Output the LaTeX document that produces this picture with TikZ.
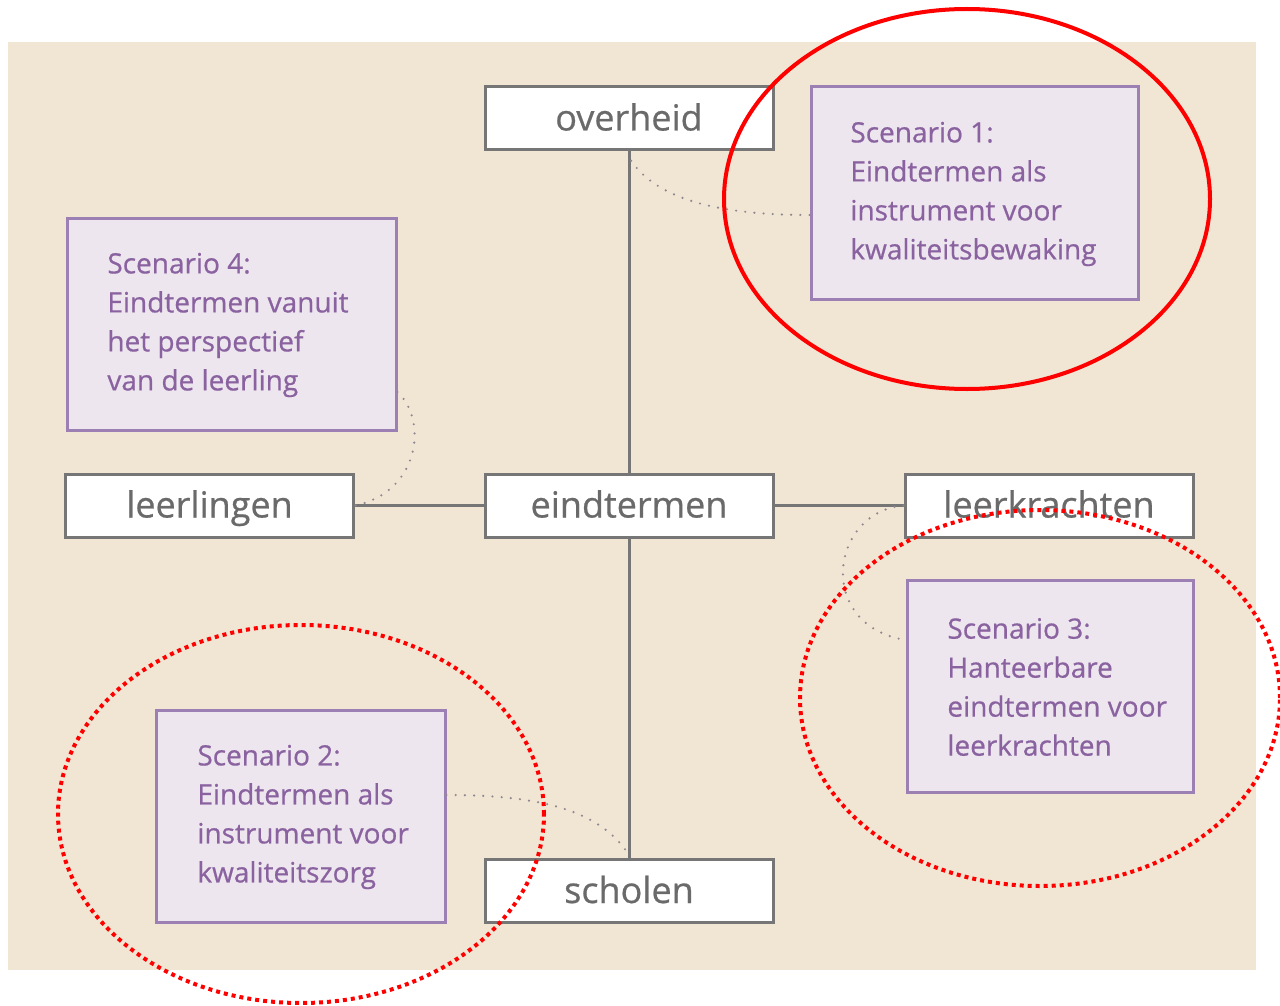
\documentclass[tikz,border=0pt]{standalone}
\usepackage{fontspec}
\setmainfont{Open Sans}[FakeBold=0.6]
\definecolor{beige}{HTML}{F1E6D4}
\definecolor{boxgray}{HTML}{767676}
\definecolor{labelgray}{HTML}{6A6A6A}
\definecolor{scenfill}{HTML}{EDE6EF}
\definecolor{scenline}{HTML}{9D80B3}
\definecolor{scentext}{HTML}{8A62A0}
\definecolor{linkgray}{HTML}{908890}
\definecolor{markred}{HTML}{FF0000}
\begin{document}
\begin{tikzpicture}[x=0.5pt, y=-0.5pt]
			\useasboundingbox (0,0) rectangle (1280,1006);
			\fill[white] (0,0) rectangle (1280,1006);
			\fill[beige] (8,42) rectangle (1256,970);
			% the five actors
			\begin{scope}[every node/.style={draw=boxgray, line width=1.5pt, fill=white, text=labelgray, font=\fontsize{18}{22}\selectfont, minimum width=144pt, minimum height=31.5pt, inner sep=0pt, text height=14pt, text depth=2pt}]
				\node (overheid) at (629,118.5) {overheid};
				\node (eindtermen) at (629,505.5) {eindtermen};
				\node (leerlingen) at (209.5,505.5) {leerlingen};
				\node (leerkrachten) at (1049,505.5) {leerkrachten};
				\node (scholen) at (629,891) {scholen};
			\end{scope}
			% scenario boxes
			\begin{scope}[every node/.style={draw=scenline, line width=1.5pt, fill=scenfill, minimum height=106pt, inner sep=0pt}]
				\node (s1)[minimum width=163.5pt] at (974.5,193) {};
				\node (s4)[minimum width=164.5pt] at (231.5,324.5) {};
				\node (s3)[minimum width=143pt] at (1050,686) {};
				\node (s2)[minimum width=144.5pt] at (300.5,816) {};
			\end{scope}
			\begin{scope}[every node/.style={anchor=west, align=left, inner sep=0pt, text=scentext, font=\fontsize{14}{19.5}\selectfont}]
				\node (t1) at (850,194) {Scenario 1:\\Eindtermen als\\instrument voor\\kwaliteitsbewaking};
				\node (t4) at (107,325) {Scenario 4:\\Eindtermen vanuit\\het perspectief\\van de leerling};
				\node (t3) at (947,687) {Scenario 3:\\Hanteerbare\\eindtermen voor\\leerkrachten};
				\node (t2) at (197,817) {Scenario 2:\\Eindtermen als\\instrument voor\\kwaliteitszorg};
			\end{scope}
			% connectors
			\begin{scope}[every edge/.style={draw=boxgray, line width=1.5pt}]
				\path [-] (overheid) edge (eindtermen);
				\path [-] (eindtermen) edge (scholen);
				\path [-] (leerlingen) edge (eindtermen);
				\path [-] (eindtermen) edge (leerkrachten);
			\end{scope}
			\begin{scope}[linkgray, line width=1.2pt, line cap=round, dash pattern=on 0pt off 4.6pt]
				\draw ([yshift=-11pt]s1.west) .. controls (720,215) and (655,200) .. ([yshift=-3pt]overheid.south);
				\draw ([yshift=20pt]s4.south east) .. controls (428,420) and (420,492) .. (leerlingen.east);
				\draw (leerkrachten.west) .. controls (830,512) and (815,625) .. ([yshift=23pt]s3.west);
				\draw ([yshift=10.5pt]s2.east) .. controls (540,795) and (600,810) .. ([yshift=1.5pt]scholen.north);
			\end{scope}
			% red marks
			\draw[markred, line width=2pt] (967,199) ellipse [x radius=121.5pt, y radius=95pt];
			\draw[markred, line width=2pt, dash pattern=on 2pt off 2pt] (1040,698) ellipse [x radius=120pt, y radius=94pt];
			\draw[markred, line width=2pt, dash pattern=on 2pt off 2pt] (301,814) ellipse [x radius=121.5pt, y radius=94.5pt];
		\end{tikzpicture}
\end{document}
